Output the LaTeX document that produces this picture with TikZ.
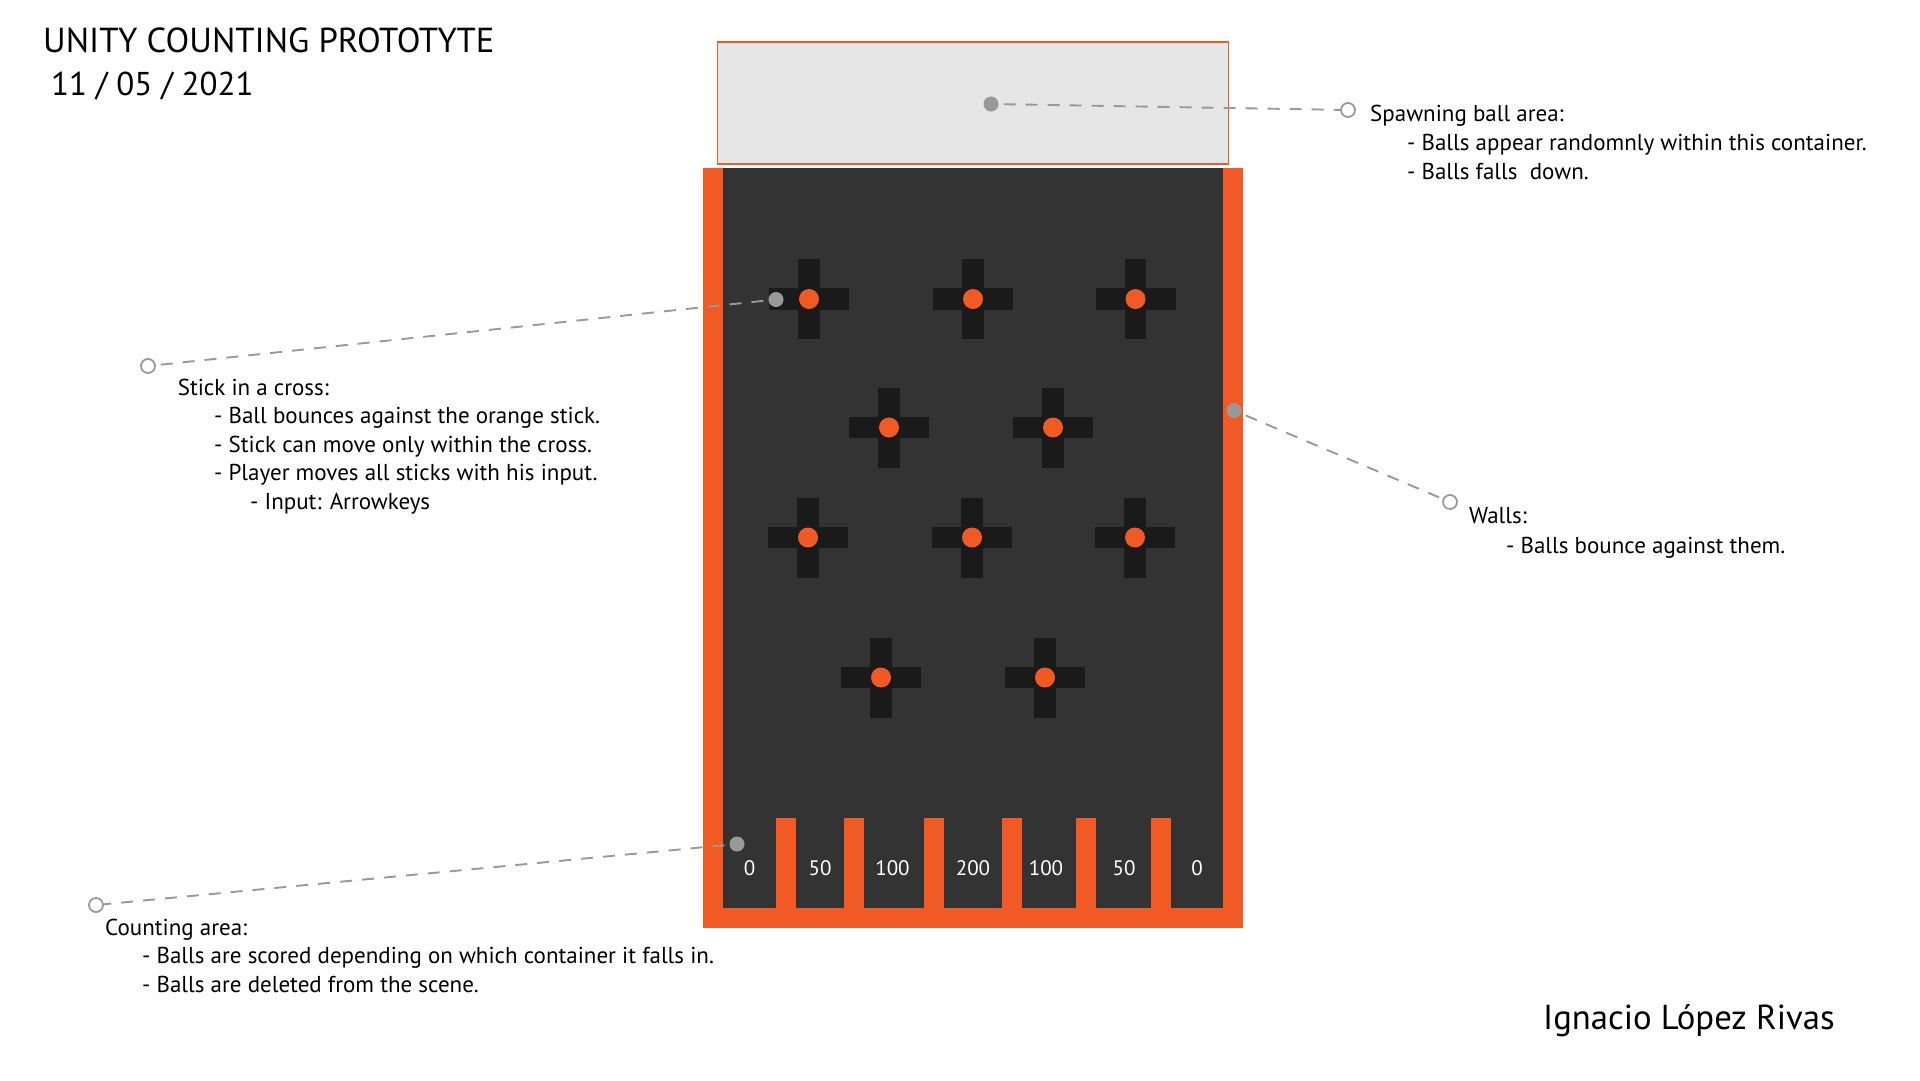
\documentclass[tikz,border=0pt]{standalone}
\usepackage{fontspec}
\setmainfont{PT Sans}
\definecolor{org}{HTML}{F15A24}
\definecolor{darkbg}{HTML}{333333}
\definecolor{crossc}{HTML}{1A1A1A}
\definecolor{spawnc}{HTML}{E6E6E6}
\definecolor{lg}{HTML}{999999}
\begin{document}
\begin{tikzpicture}[x=1pt,y=-1pt,
  txt/.style={anchor=base west, inner sep=0, font=\fontsize{23}{28}\selectfont},
  bigtxt/.style={anchor=base west, inner sep=0, font=\fontsize{34.7}{40}\selectfont},
  gdot/.style={circle, fill=lg, minimum size=15pt, inner sep=0},
  ocirc/.style={circle, draw=lg, line width=1.8pt, fill=white, minimum size=14pt, inner sep=0},
  lead/.style={draw=lg, line width=1.9pt, dash pattern=on 12pt off 10pt, shorten <=5pt},
  ball/.style={circle, fill=org, minimum size=20pt, inner sep=0},
  binlbl/.style={anchor=base, text=white, font=\fontsize{21}{24}\selectfont, inner sep=0}
]
\fill[white] (0,0) rectangle (1920,1080);
% spawn area
\draw[org, fill=spawnc, line width=1.5pt] (717.5,42) rectangle (1228.5,164);
% board
\fill[org] (703,168) rectangle (1243,927.7);
\fill[darkbg] (723,168) rectangle (1223,907.7);
% bin posts
\foreach \px in {775.7, 844.3, 923.6, 1001.8, 1075.7, 1150.7}
  \fill[org] (\px,818) rectangle (\px+20,908);
% crosses
\foreach \cx/\cy in {809/299, 973/299, 1135.5/299, 889/427.5, 1053/427.5, 808/537.5, 972/537.5, 1135/537.5, 881/677.5, 1045/677.5} {
  \fill[crossc] (\cx-40,\cy-10.85) rectangle (\cx+40,\cy+10.85);
  \fill[crossc] (\cx-10.85,\cy-40) rectangle (\cx+10.85,\cy+40);
  \node[ball] at (\cx,\cy) {};
}
% bin labels
\node[binlbl] (b1) at (749.5,875) {0};
\node[binlbl] (b2) at (820,875) {50};
\node[binlbl] (b3) at (892.5,875) {100};
\node[binlbl] (b4) at (973,875) {200};
\node[binlbl] (b5) at (1046,875) {100};
\node[binlbl] (b6) at (1124,875) {50};
\node[binlbl] (b7) at (1197,875) {0};
% callouts
\node[gdot] (sd) at (991,104) {};
\node[ocirc] (sc) at (1348,110) {};
\draw[lead] (sd) -- (sc);
\node[gdot] (kd) at (776,299.5) {};
\node[ocirc] (kc) at (148,366) {};
\draw[lead] (kd) -- (kc);
\node[gdot] (wd) at (1234,410.5) {};
\node[ocirc] (wc) at (1450,502) {};
\draw[lead] (wd) -- (wc);
\node[gdot] (cd) at (737,844) {};
\node[ocirc] (cc) at (96,905) {};
\draw[lead] (cd) -- (cc);
% title
\node[bigtxt] (title) at (43,52.3) {UNITY COUNTING PROTOTYTE};
\node[bigtxt, font=\fontsize{33}{40}\selectfont] (date) at (51,95) {11 / 05 / 2021};
% spawn text
\node[txt] (s1) at (1370,121) {Spawning ball area:};
\node[txt] (s2) at (1407,150) {- Balls appear randomnly within this container.};
\node[txt] (s3) at (1407,179) {- Balls falls\ \ down.};
% stick text
\node[txt] (k1) at (177.6,395) {Stick in a cross:};
\node[txt] (k2) at (214,423.5) {- Ball bounces against the orange stick.};
\node[txt] (k3) at (214,452) {- Stick can move only within the cross.};
\node[txt] (k4) at (214,480.5) {- Player moves all sticks with his input.};
\node[txt] (k5) at (250,509) {- Input: Arrowkeys};
% walls text
\node[txt] (w1) at (1469,523.5) {Walls:};
\node[txt] (w2) at (1506,553) {- Balls bounce against them.};
% counting text
\node[txt] (c1) at (105,935) {Counting area:};
\node[txt] (c2) at (142,963.5) {- Balls are scored depending on which container it falls in.};
\node[txt] (c3) at (142,992.5) {- Balls are deleted from the scene.};
% author
\node[bigtxt] (author) at (1543,1029) {Ignacio López Rivas};
\end{tikzpicture}
\end{document}
